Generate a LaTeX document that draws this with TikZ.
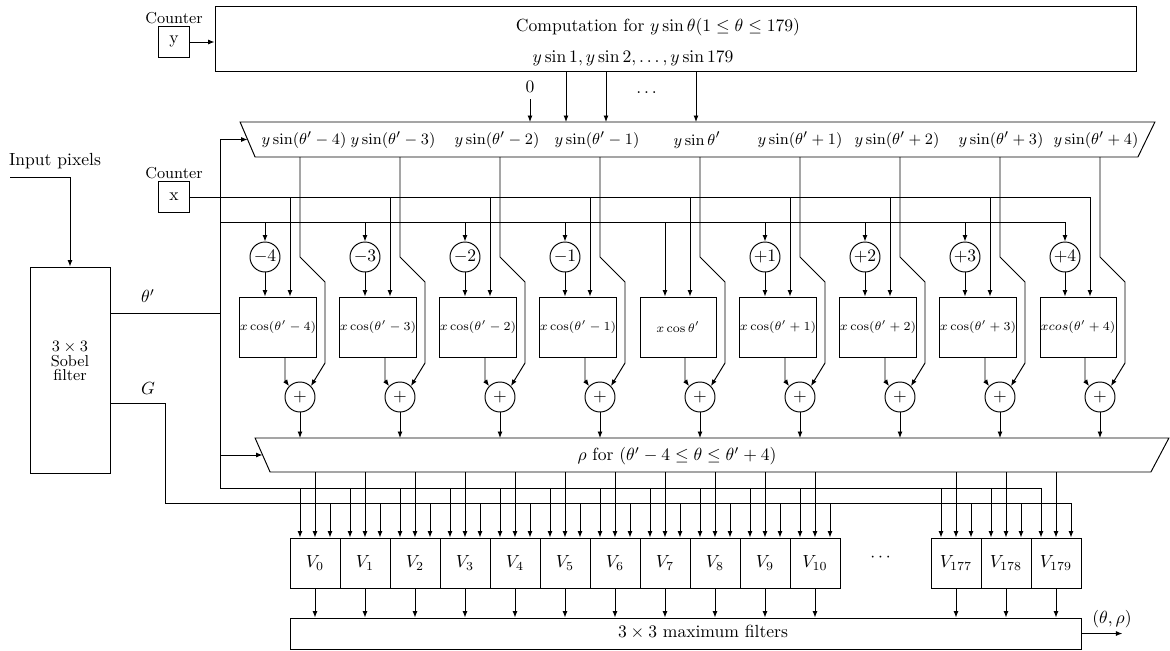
\documentclass[tikz,border=0pt]{standalone}
\usepackage{amsmath}
\usetikzlibrary{arrows.meta}

\begin{document}
\begin{tikzpicture}[
      x=0.02cm, y=-0.02cm, line width=0.55pt,
      box/.style={draw, minimum width=1.52cm, minimum height=1.2cm, inner sep=0pt, font=\scriptsize},
      cnt/.style={draw, minimum width=0.62cm, minimum height=0.62cm, inner sep=0pt},
      op/.style={draw, circle, minimum size=0.6cm, inner sep=0pt},
      vbox/.style={draw, minimum width=1cm, minimum height=1cm, inner sep=0pt},
      mux/.style={inner sep=0pt, outer sep=0pt},
      sinlbl/.style={font=\fontsize{9.3}{11}\selectfont},
      arrow/.style={-{Latex[length=1.3mm, width=1mm]}}
    ]
      \useasboundingbox (0,0) rectangle (1170,650);

      \node[cnt] (ycnt) at (174,42) {y};
      \node[font=\small] (ylbl) at (174,18) {Counter};
      \node[draw, minimum width=18.44cm, minimum height=1.3cm] (comp) at (676,38.5) {};
      \node (comptxt) at (658,27) {Computation for $y\sin\theta(1\le\theta\le179)$};
      \node (complist) at (633,58) {$y\sin1,y\sin2,\dots,y\sin179$};
      \node (zero) at (530,87) {0};
      \node (tdots) at (648,93) {$\dots$};

      \node[mux, minimum width=18.3cm, minimum height=0.7cm] (sinmux) at (697.5,139.5) {};
      \draw (sinmux.north west) -- (sinmux.north east) -- ([xshift=-0.34cm]sinmux.south east) -- ([xshift=0.3cm]sinmux.south west) -- cycle;
      \coordinate (sinin) at ([xshift=0.15cm]sinmux.west);
      \node[mux, minimum width=18.28cm, minimum height=0.68cm] (rhomux) at (712,455) {};
      \draw (rhomux.north west) -- (rhomux.north east) -- ([xshift=-0.36cm]rhomux.south east) -- ([xshift=0.3cm]rhomux.south west) -- cycle;
      \coordinate (rhoin) at ([xshift=0.15cm]rhomux.west);
      \node (rholbl) at (677,456) {$\rho$ for $(\theta'-4\le\theta\le\theta'+4)$};

      \node[cnt] (xcnt) at (174,197) {x};
      \node[font=\small] (xlbl) at (174,173) {Counter};
      \node[draw, minimum width=1.6cm, minimum height=4.12cm] (sobel) at (70,370) {};
      \node[align=center, font=\small] (soblbl) at (70,361) {$3\times3$\\[-3pt]Sobel\\[-3pt]filter};
      \node (inlbl) at (55,161) {Input pixels};
      \node (thlbl) at (148,296) {$\theta'$};
      \node (glbl) at (148,388) {$G$};

      \node[draw, minimum width=15.84cm, minimum height=0.62cm] (maxf) at (686,633.5) {};
      \node (maxlbl) at (703,632) {$3\times3$ maximum filters};
      \node (vdots) at (882,558) {$\cdots$};
      \node (outlbl) at (1112,619) {$(\theta,\rho)$};

      \coordinate (inp) at (10,177);
      \coordinate (thout) at ([yshift=1.14cm]sobel.east);
      \coordinate (gout) at ([yshift=-0.66cm]sobel.east);
      \coordinate (thbus) at (220,222);
      \coordinate (thlow) at (220,488);
      \coordinate (glow) at (165,503);
      \coordinate (out) at ([xshift=0.8cm]maxf.east);

      \foreach \k/\sx/\sl in {0/304/{y\sin(\theta'-4)}, 1/393/{y\sin(\theta'-3)}, 2/497/{y\sin(\theta'-2)}, 3/597/{y\sin(\theta'-1)}, 4/697/{y\sin\theta'}, 5/800/{y\sin(\theta'+1)}, 6/897/{y\sin(\theta'+2)}, 7/1001/{y\sin(\theta'+3)}, 8/1096/{y\sin(\theta'+4)}}
        \node[sinlbl] (sl\k) at (\sx,140) {$\sl$};

      \foreach \k/\cl in {0/{x\cos(\theta'-4)}, 1/{x\cos(\theta'-3)}, 2/{x\cos(\theta'-2)}, 3/{x\cos(\theta'-1)}, 4/{x\cos\theta'}, 5/{x\cos(\theta'+1)}, 6/{x\cos(\theta'+2)}, 7/{x\cos(\theta'+3)}, 8/{xcos(\theta'+4)}} {
        \node[box] (cos\k) at (278+100*\k,327) {$\cl$};
        \node[op] (add\k) at (300+100*\k,397) {$+$};
        \coordinate (xd\k) at ([xshift=0.24cm]cos\k.north);
        \draw[arrow] (add\k |- sinmux.south) -- ++(0,100) -- ++(25,25) -- ++(0,81) -- (add\k.north east);
        \draw[arrow] ([xshift=0.14cm]cos\k.south) -- ++(0,23) -- (add\k.north west);
        \draw[arrow] (add\k) -- (add\k |- rhomux.north);
        \draw[arrow] (xd\k |- xcnt) -- (xd\k);
      }

      \foreach \k/\ol in {0/-4, 1/-3, 2/-2, 3/-1, 5/+1, 6/+2, 7/+3, 8/+4} {
        \node[op] (off\k) at (265+100*\k,257) {$\ol$};
        \draw[arrow] (off\k |- thbus) -- (off\k);
        \draw[arrow] (off\k) -- (off\k |- cos\k.north);
      }
      \coordinate (td4) at ([xshift=-0.26cm]cos4.north);
      \draw[arrow] (td4 |- thbus) -- (td4);

      \foreach \i/\vx in {0/315, 1/365, 2/415, 3/465, 4/515, 5/565, 6/615, 7/665, 8/715, 9/765, 10/815, 177/956, 178/1006, 179/1056} {
        \node[vbox] (v\i) at (\vx,563) {$V_{\i}$};
        \coordinate (va\i) at ([xshift=-0.3cm]v\i.north);
        \coordinate (vc\i) at ([xshift=0.3cm]v\i.north);
        \draw[arrow] (va\i |- thlow) -- (va\i);
        \draw[arrow] (v\i |- rhomux.south) -- (v\i.north);
        \draw[arrow] (vc\i |- glow) -- (vc\i);
        \draw[arrow] (v\i.south) -- (v\i |- maxf.north);
      }

      \draw[arrow] (ycnt) -- (ycnt -| comp.west);
      \draw (xcnt) -- (xd8 |- xcnt);
      \draw[arrow] (inp) -| (sobel.north);
      \draw (thout) -- (thlow |- thout);
      \draw (thlow |- sinin) -- (thlow) -- (va179 |- thlow);
      \draw (thbus) -- (off8 |- thbus);
      \draw[arrow] (thlow |- sinin) -- (sinin);
      \draw[arrow] (thlow |- rhoin) -- (rhoin);
      \draw (gout) -| (glow) -- (vc179 |- glow);
      \draw[arrow] (zero) -- (zero |- sinmux.north);
      \foreach \tx in {566,606,696}
        \draw[arrow] (\tx,0 |- comp.south) -- (\tx,0 |- sinmux.north);
      \draw[arrow] (maxf.east) -- (out);
    \end{tikzpicture}
\end{document}
